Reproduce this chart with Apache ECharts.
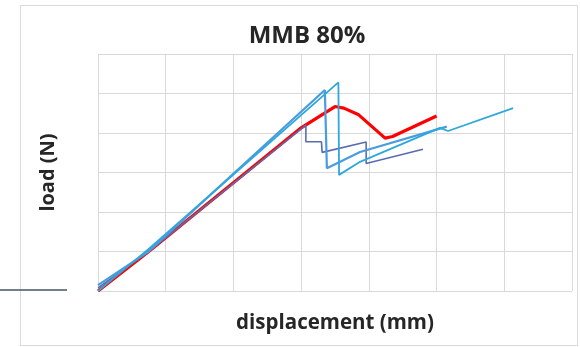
<!DOCTYPE html>
<html>
<head>
<meta charset="utf-8">
<script src="https://cdn.jsdelivr.net/npm/echarts@6/dist/echarts.min.js"></script>
<style>
html,body{margin:0;padding:0;background:#fff;}
#c{width:580px;height:347px;}
</style>
</head>
<body>
<div id="c"></div>
<script>
const title = "MMB 80%";
const xName = "displacement (mm)";
const yName = "load (N)";

const redX = [0, 0.74, 3.0, 3.5, 3.63, 3.85, 4.24, 4.35, 5.0];
const redY = [0, 0.99, 4.13, 4.67, 4.63, 4.46, 3.87, 3.91, 4.43];

const slateX = [0, 0.74, 3.07, 3.07, 3.3, 3.31, 3.96, 3.96, 4.8];
const slateY = [0.08, 0.99, 4.2, 3.78, 3.78, 3.51, 3.77, 3.23, 3.59];

const blueAX = [0, 0.74, 3.35, 3.38, 3.87, 5.15];
const blueAY = [0.15, 0.99, 5.09, 3.11, 3.52, 4.16];

const blueBX = [0, 0.74, 3.55, 3.56, 3.87, 5.05, 5.17, 6.13];
const blueBY = [0, 1.05, 5.28, 2.94, 3.27, 4.13, 4.05, 4.63];

function pairs(xs, ys){ return xs.map((x,i)=>[x, ys[i]]); }

const chart = echarts.init(document.getElementById('c'), null, {renderer:'canvas'});
const font = "'Open Sans', sans-serif";
chart.setOption({
  animation:false,
  backgroundColor:'#ffffff',
  title:{text:title,left:302,top:19,textAlign:'center',
    textStyle:{fontFamily:font,fontWeight:'bold',fontSize:24,color:'#262626'}},
  grid:{left:98,right:8,top:54,bottom:56,containLabel:false},
  xAxis:{type:'value',min:0,max:7,interval:1,
    name:xName,nameLocation:'middle',nameGap:22,
    nameTextStyle:{fontFamily:font,fontWeight:'bold',fontSize:20.5,color:'#262626'},
    axisLabel:{show:false},axisTick:{show:false},axisLine:{show:false},
    splitLine:{show:true,lineStyle:{color:'#d9d9d9',width:1}}},
  yAxis:{type:'value',min:0,max:6,interval:1,
    name:yName,nameLocation:'middle',nameGap:40,
    nameTextStyle:{fontFamily:font,fontWeight:'bold',fontSize:20,color:'#262626'},
    axisLabel:{show:false},axisTick:{show:false},axisLine:{show:false},
    splitLine:{show:true,lineStyle:{color:'#d9d9d9',width:1}}},
  graphic:[
    {type:'rect',shape:{x:20.5,y:5.5,width:557,height:340},
      style:{fill:'none',stroke:'#d9d9d9',lineWidth:1},z:-1},
    {type:'line',shape:{x1:0,y1:290,x2:67,y2:290},
      style:{stroke:'#44546a',lineWidth:1.5}}
  ],
  series:[
    {type:'line',data:pairs(redX,redY),symbol:'none',
      lineStyle:{color:'#ff0000',width:3.2},z:2},
    {type:'line',data:pairs(slateX,slateY),symbol:'none',
      lineStyle:{color:'#5a6cb0',width:1.6},z:3},
    {type:'line',data:pairs(blueAX,blueAY),symbol:'none',
      lineStyle:{color:'#4a9be0',width:2.2},z:4},
    {type:'line',data:pairs(blueBX,blueBY),symbol:'none',
      lineStyle:{color:'#2ea8dc',width:1.8},z:4}
  ]
});
</script>
</body>
</html>
